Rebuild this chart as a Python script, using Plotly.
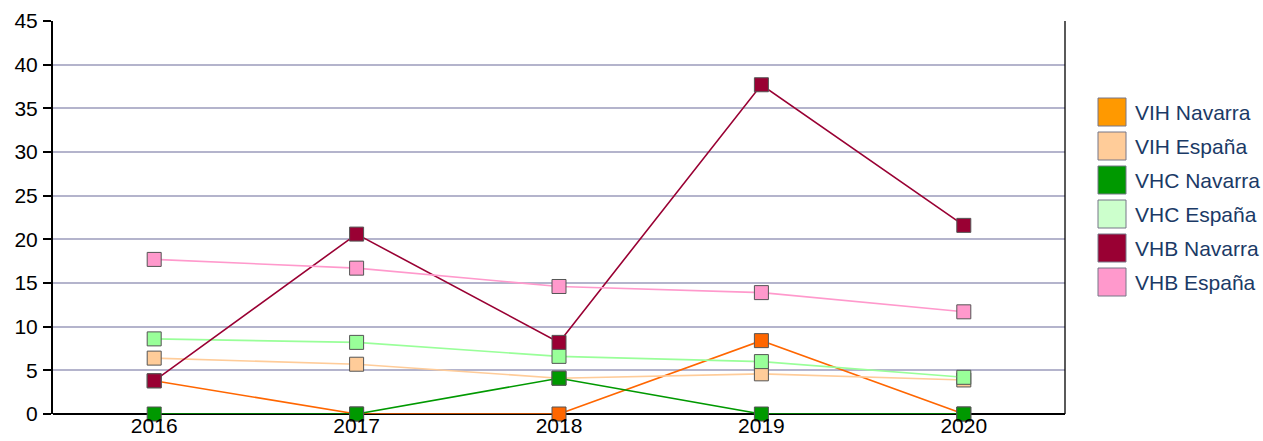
import plotly.graph_objects as go

years = ["2016", "2017", "2018", "2019", "2020"]
series_names = ["VIH Navarra", "VIH España", "VHC Navarra", "VHC España", "VHB Navarra", "VHB España"]
vih_navarra = [3.8, 0, 0, 8.4, 0]
vih_espana = [6.4, 5.7, 4.1, 4.6, 3.9]
vhc_navarra = [0, 0, 4.1, 0, 0]
vhc_espana = [8.6, 8.2, 6.6, 6.0, 4.2]
vhb_navarra = [3.8, 20.6, 8.2, 37.7, 21.6]
vhb_espana = [17.7, 16.7, 14.6, 13.9, 11.7]
values = [vih_navarra, vih_espana, vhc_navarra, vhc_espana, vhb_navarra, vhb_espana]
line_colors = ["#FF6600", "#FFCC99", "#009900", "#99FF99", "#990033", "#FF99CC"]
legend_colors = ["#FF9900", "#FFCC99", "#009900", "#CCFFCC", "#990033", "#FF99CC"]
y_ticks = [0, 5, 10, 15, 20, 25, 30, 35, 40, 45]

W, H = 1263, 441
L, R, T, B = 53, 1065, 21, 414  # plot area in page pixels

fig = go.Figure()
for name, vals, col in zip(series_names, values, line_colors):
    fig.add_trace(go.Scatter(
        x=years, y=vals, name=name, mode="lines+markers",
        line=dict(color=col, width=1.6),
        marker=dict(symbol="square", size=14, color=col, line=dict(color="#555555", width=1)),
        showlegend=False, cliponaxis=False,
    ))

# frame lines: bottom axis line and thin right border
shapes = [
    dict(type="line", xref="paper", yref="paper", x0=0, x1=1, y0=0, y1=0, layer="below",
         line=dict(color="black", width=2)),
    dict(type="line", xref="paper", yref="paper", x0=1, x1=1, y0=0, y1=1,
         line=dict(color="black", width=1.3)),
]
# custom legend
row_top0, row_step, box = 98, 34, 28
annotations = []
for i, (name, col) in enumerate(zip(series_names, legend_colors)):
    top = row_top0 + i * row_step
    x0p = (1098 - L) / (R - L)
    x1p = (1126 - L) / (R - L)
    y0p = (B - (top + box)) / (B - T)
    y1p = (B - top) / (B - T)
    shapes.append(dict(type="rect", xref="paper", yref="paper", x0=x0p, x1=x1p, y0=y0p, y1=y1p,
                       fillcolor=col, line=dict(color="#777788", width=1)))
    annotations.append(dict(xref="paper", yref="paper", x=(1133 - L) / (R - L),
                            y=(B - (top + box / 2)) / (B - T), text=name, showarrow=False,
                            xanchor="left", yanchor="middle",
                            font=dict(family="Liberation Sans, Arial", size=21, color="#1B3A66")))

fig.update_layout(
    width=W, height=H,
    margin=dict(l=L, r=W - R, t=T, b=H - B),
    paper_bgcolor="white", plot_bgcolor="white",
    font=dict(family="Liberation Sans, Arial", size=21, color="black"),
    shapes=shapes, annotations=annotations,
    xaxis=dict(type="category", range=[-0.5, 4.5], showgrid=False, showline=False,
               anchor="free", position=3 / (B - T),
               ticks="", zeroline=False, automargin=False,
               tickfont=dict(size=21, color="black")),
    yaxis=dict(range=[0, 45], tickvals=y_ticks, showgrid=True, gridcolor="#B4B4CC", gridwidth=2,
               showline=True, linecolor="black", linewidth=2, automargin=False,
               ticks="outside", ticklen=8, tickcolor="black", tickwidth=2,
               ticklabelstandoff=1, zeroline=False,
               tickfont=dict(size=21, color="black")),
)
fig.write_html("out.html", config={"displayModeBar": False},
               post_script="document.body.style.margin='0';document.body.style.overflow='hidden';")
